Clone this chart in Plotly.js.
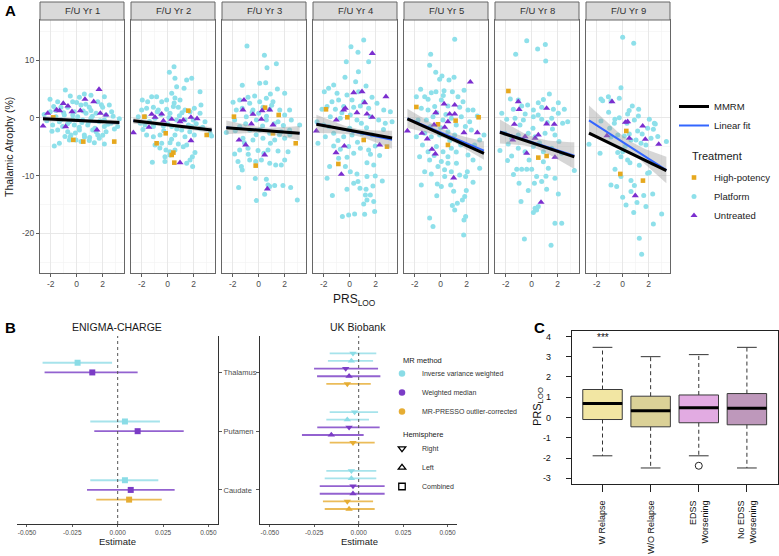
<!DOCTYPE html>
<html><head><meta charset="utf-8">
<script src="https://cdn.plot.ly/plotly-3.0.1.min.js"></script>
<style>html,body{margin:0;padding:0;background:#fff}#chart{width:779px;height:556px}</style>
</head><body><div id="chart"></div>
<script>
// ---------------- Panel A data ----------------
const yearLabels = ['F/U Yr 1','F/U Yr 2','F/U Yr 3','F/U Yr 4','F/U Yr 5','F/U Yr 8','F/U Yr 9'];

const platformYr1 = [[-0.87,4.86],[0.59,4.16],[-2.05,3.24],[-0.49,3.82],[0.21,3.58],[1.10,3.93],[2.13,3.70],[2.51,2.25],[-1.46,2.83],[-0.31,2.83],[1.62,2.83],[2.69,1.10],[3.28,-0.12],[-1.77,1.97],[-2.03,1.10],[-1.21,1.85],[-0.69,1.85],[0.33,2.25],[0.97,1.85],[2.00,1.85],[-0.18,1.10],[0.72,0.81],[1.49,0.81],[2.26,0.52],[-1.59,0.23],[-0.95,0.52],[0.08,0.23],[1.10,-0.06],[2.13,-0.35],[-1.33,-0.64],[-0.56,-0.64],[0.46,-0.35],[1.74,-0.64],[2.64,-0.92],[-1.85,-1.21],[-1.08,-1.50],[-0.18,-1.21],[0.85,-1.21],[2.13,-1.50],[-1.46,-2.08],[-0.69,-2.37],[0.21,-2.08],[1.23,-2.08],[2.26,-2.37],[-0.44,-2.95],[0.59,-2.95],[1.62,-2.95],[-0.05,-3.82],[0.97,-3.93],[-0.56,-3.82],[0.33,-4.10],[1.74,-3.53],[-1.72,-4.86],[-1.33,-4.39],[2.13,-4.51],[1.36,-4.28],[3.15,-1.50],[-1.0,0.9],[-0.3,0.5],[0.5,1.2],[1.2,0.3],[1.8,-0.5],[-0.7,-1.0],[0.2,-1.6],[0.9,-0.8],[1.5,-2.4],[-1.2,-0.3],[0.6,-3.3],[-0.1,-2.6],[1.1,1.3],[2.4,-1.1],[-1.6,1.3],[-2.3,-0.5],[2.8,0.3],[0.0,2.7],[-0.5,-3.3],[1.9,2.3],[0.4,-0.8],[-0.3,-0.2],[1.4,-1.8],[2.0,-3.0],[-1.9,-2.3],[-2.5,0.6],[-0.9,-3.2],[1.0,-3.4],[2.9,-1.9],[0.7,2.4]];
const untreatedYr1 = [[-2.59,-1.39],[-2.23,0.81],[-1.54,1.39],[-1.31,1.27],[-1.03,2.54],[-0.67,2.08],[-0.36,1.10],[0.64,3.24],[1.72,4.97],[1.31,2.83],[1.56,-2.08],[-0.85,-1.50],[0.28,1.27],[1.82,0.81],[2.26,0.52]];
const highPotencyYr1 = [[2.89,-4.10],[-0.26,-3.80],[0.51,-4.10],[-1.80,0.10]];

const platformYr2 = [[0.49,8.90],[0.13,7.92],[0.56,6.88],[1.46,6.59],[1.85,6.88],[1.26,5.14],[2.49,4.57],[0.69,5.43],[0.31,4.28],[-1.95,3.12],[-1.23,3.70],[-0.85,3.70],[-0.46,2.83],[-0.08,3.12],[0.56,3.47],[0.95,3.12],[-1.54,2.83],[2.56,2.25],[2.05,1.68],[-2.0,1.39],[-1.62,1.68],[-1.10,1.85],[-0.72,1.39],[-0.08,1.50],[0.44,1.97],[0.82,1.85],[1.33,1.39],[1.72,1.10],[2.49,0.81],[-2.26,0.23],[-1.74,0.23],[0.18,0.81],[-0.97,-0.06],[0.69,-0.35],[1.33,-0.35],[1.97,-0.35],[2.87,-0.64],[3.26,-2.66],[3.38,-3.12],[-1.74,-1.21],[-1.10,-1.50],[-0.33,-1.39],[0.31,-1.50],[1.08,-2.08],[1.85,-1.50],[2.49,-1.79],[-1.62,-2.95],[-1.10,-3.24],[-0.59,-2.95],[0.56,-2.95],[1.33,-3.24],[2.05,-2.95],[-0.97,-4.68],[-0.46,-4.39],[0.18,-4.28],[0.82,-4.51],[1.46,-4.68],[-0.13,-5.55],[0.56,-5.55],[-0.21,-6.71],[0.18,-5.84],[2.10,-6.01],[1.90,-6.71],[1.72,-7.28],[1.46,-7.86],[1.92,-8.44],[-1.18,-7.69],[-0.21,-7.57],[0.18,-6.42],[-0.5,0.6],[0.9,0.4],[-1.4,-0.6],[0.0,-1.0],[1.6,-1.2],[-0.3,-2.2],[0.7,-1.9],[2.2,-1.0],[-0.8,1.1],[1.1,0.9],[-2.1,-0.9],[0.3,-3.7],[1.2,-5.0],[-0.6,-5.2],[2.7,-1.6],[-1.9,-2.0],[0.5,2.6],[1.7,-2.4],[-1.1,-1.1],[0.1,0.1]];
const untreatedYr2 = [[-2.64,-2.54],[-1.23,0.64],[-0.97,0.12],[-0.46,0.69],[-0.33,-0.52],[0.31,-0.23],[-1.44,-1.62],[0.95,-0.64],[1.79,0.12],[2.26,-0.12],[1.79,-3.93],[0.95,-7.75],[1.20,-0.35]];
const highPotencyYr2 = [[1.59,1.27],[-1.79,0.23],[-0.15,-2.66],[-0.85,-4.39],[0.44,-6.01],[0.31,-6.42],[0.51,-7.75],[3.00,-2.95]];

const platformYr3 = [[-0.90,12.49],[0.44,10.87],[1.36,9.42],[0.64,8.73],[0.08,6.01],[0.54,6.13],[-1.26,5.66],[1.44,5.03],[2.0,4.28],[-0.31,3.82],[-0.82,3.58],[0.90,4.16],[-1.97,2.72],[-1.46,3.12],[-0.69,2.54],[0.08,2.83],[0.59,3.41],[1.10,2.83],[-1.72,1.39],[-1.26,1.68],[-0.44,1.39],[0.33,1.85],[0.85,1.50],[1.62,1.39],[2.38,1.39],[2.0,0.52],[2.51,-0.35],[3.15,-1.21],[-2.49,-2.54],[-1.85,-0.35],[-0.95,0.23],[-0.18,-0.35],[0.59,-0.35],[1.49,-0.64],[-1.46,-1.50],[-0.69,-2.08],[0.08,-2.08],[0.85,-2.66],[1.74,-2.37],[2.38,-2.08],[-1.21,-3.53],[-0.44,-3.82],[0.33,-3.53],[1.23,-3.82],[2.0,-3.53],[-1.85,-6.24],[-1.46,-5.55],[-0.82,-5.26],[-0.05,-5.66],[0.72,-5.55],[1.49,-5.72],[2.26,-5.84],[-1.59,-7.57],[-1.33,-8.44],[-1.26,-9.02],[-0.69,-7.28],[-0.23,-7.57],[0.21,-7.28],[0.85,-7.86],[1.31,-8.15],[1.74,-8.15],[2.0,-7.28],[-1.54,-12.08],[-0.26,-10.52],[0.59,-10.64],[0.72,-11.62],[0.46,-13.24],[1.23,-11.73],[1.87,-11.73],[2.46,-12.08],[-0.18,-14.34],[2.97,-14.22],[0.85,-11.9],[-0.5,1.0],[0.6,0.3],[1.2,-1.0],[-1.0,-1.0],[0.3,-1.4],[1.9,-1.3],[-0.2,-2.9],[0.9,-4.4],[-1.1,-4.3],[1.6,-2.9],[2.4,-2.9],[-1.8,-2.2],[0.0,0.8],[1.0,2.2],[-0.8,-6.3],[0.4,-6.1]];
const untreatedYr3 = [[-1.13,3.12],[-1.21,1.39],[-0.44,0.64],[0.21,-0.23],[0.85,1.39],[0.26,1.27],[-0.56,-1.04],[1.10,-1.21],[-1.51,-3.82],[-1.00,-4.68],[0.46,-6.42],[0.67,-12.31]];
const highPotencyYr3 = [[-1.90,0.23],[0.49,1.79],[1.54,0.52],[1.10,-2.66],[2.85,-4.39],[-0.23,-8.27]];

const platformYr4 = [[1.08,13.53],[0.10,12.37],[0.64,11.39],[-0.26,9.77],[1.46,9.77],[0.67,8.03],[-0.36,7.05],[0.46,6.30],[-1.23,5.72],[-1.95,4.57],[-1.62,5.14],[1.26,5.55],[1.72,3.58],[-0.97,4.28],[-0.21,3.99],[0.69,4.57],[-1.36,2.83],[-0.85,3.12],[0.18,3.12],[1.08,2.83],[2.10,2.54],[-2.13,1.50],[-1.74,1.97],[-1.10,1.50],[-0.46,1.97],[0.31,1.85],[0.82,2.08],[1.46,1.68],[2.62,1.39],[3.13,1.10],[3.26,-0.64],[2.74,-0.92],[-2.51,-0.64],[-1.49,0.23],[-0.72,-0.06],[0.05,0.52],[0.56,-0.35],[1.59,0.23],[2.23,-0.35],[-2.44,-4.39],[-1.87,-3.24],[-1.23,-2.66],[-0.46,-3.24],[0.18,-2.95],[0.95,-2.66],[1.72,-2.95],[-1.23,-4.86],[-0.72,-5.43],[-0.08,-4.97],[0.31,-6.13],[0.82,-5.26],[1.46,-5.55],[1.97,-4.86],[-1.54,-8.44],[-1.74,-10.46],[-0.85,-6.99],[-0.33,-8.44],[0.05,-9.31],[0.56,-9.71],[1.33,-7.75],[1.85,-8.15],[1.97,-10.06],[2.51,-10.92],[1.33,-10.17],[0.31,-11.33],[0.64,-11.04],[0.79,-12.20],[1.26,-12.37],[1.79,-11.79],[-0.21,-12.37],[-1.33,-13.47],[1.21,-13.35],[1.59,-13.35],[1.08,-14.91],[1.85,-14.51],[1.33,-14.22],[-0.08,-16.82],[-0.56,-17.11],[0.38,-16.65],[1.15,-16.71],[1.92,-16.24],[-0.6,0.9],[0.9,-0.9],[-1.6,-1.5],[0.0,-1.8],[1.3,-1.7],[2.6,-2.0],[-0.9,-3.9],[0.6,-4.2],[1.6,-6.3],[-0.2,-6.8],[2.3,-6.5],[-2.0,-1.2]];
const untreatedYr4 = [[1.74,11.21],[2.79,3.70],[0.31,4.39],[0.95,4.57],[1.15,2.66],[-0.46,1.39],[-0.33,1.68],[-1.03,-0.35],[1.74,0.12],[-2.56,-2.25],[-0.41,-4.86],[-1.05,-6.01],[2.31,-4.68],[-0.64,-9.77],[0.56,0.92],[1.33,0.69]];
const highPotencyYr4 = [[-1.82,1.50],[-0.18,0.12],[-0.87,-7.98],[2.87,-4.97],[1.08,-3.82]];

const platformYr5 = [[1.08,13.64],[-0.77,11.04],[-0.85,9.13],[-0.38,7.92],[0.10,7.28],[-0.08,6.71],[1.03,7.05],[0.64,6.59],[-1.54,4.97],[-0.72,4.39],[-0.36,4.57],[0.26,4.74],[0.90,4.57],[-1.23,3.70],[-1.87,3.70],[-0.97,3.24],[0.05,3.12],[1.33,3.70],[1.72,2.83],[2.49,1.39],[2.82,0.35],[3.33,-2.95],[3.0,-3.82],[-1.49,1.68],[-0.97,1.39],[-0.46,1.97],[0.56,2.08],[1.46,1.85],[2.10,1.39],[-1.74,-0.35],[-1.10,-0.35],[-0.59,0.23],[0.18,-0.35],[0.82,-0.06],[1.59,0.23],[2.23,-0.64],[-1.87,-3.24],[-1.23,-2.66],[-0.72,-3.24],[-0.08,-2.95],[0.56,-2.37],[1.08,-2.95],[2.36,-2.08],[-1.62,-6.71],[-0.97,-5.84],[-0.33,-4.97],[0.18,-5.84],[0.82,-5.26],[1.54,-4.68],[2.10,-6.42],[2.49,-7.28],[-0.85,-7.28],[0.05,-7.57],[0.56,-6.71],[1.21,-7.86],[-1.23,-9.31],[-0.72,-9.71],[-0.21,-8.44],[0.31,-10.17],[0.82,-9.31],[1.46,-9.88],[1.92,-10.17],[-1.49,-11.62],[-0.26,-11.45],[0.77,-11.62],[2.49,-11.16],[3.0,-8.73],[2.05,-9.31],[0.90,-15.20],[1.08,-15.95],[1.28,-14.80],[1.67,-14.22],[1.85,-13.64],[1.97,-12.60],[1.79,-17.69],[1.92,-17.11],[-0.85,-17.34],[-0.59,-18.84],[1.77,-20.29],[0.56,-7.86],[0.05,-11.9],[-0.3,0.9],[0.4,0.6],[1.2,-1.2],[-0.8,-1.5],[0.0,-1.7],[1.9,-1.5],[-1.4,-4.7],[0.7,-3.9],[1.2,-5.9],[2.6,-4.7],[-0.5,-6.5],[0.3,-9.0],[1.0,-12.7],[-0.3,-13.5],[0.2,3.9],[1.8,4.8]];
const untreatedYr5 = [[2.28,6.24],[-0.38,0.92],[0.26,2.43],[0.69,0.69],[1.08,0.69],[1.08,2.25],[-0.51,-1.21],[0.31,-1.62],[0.56,-0.64],[1.79,-2.54],[2.82,-2.54],[-2.56,-2.25],[-1.44,-2.66],[-1.03,-3.64],[-0.67,-5.43],[-0.41,-6.24],[1.00,-10.40]];
const highPotencyYr5 = [[-1.87,1.91],[-0.21,-1.10],[1.15,-0.46],[2.92,0.12],[0.56,-4.68]];

const platformYr8 = [[-0.38,13.41],[1.05,12.77],[-1.23,11.04],[0.46,11.97],[1.08,9.88],[1.36,4.16],[-1.64,3.29],[-1.03,3.12],[-0.31,2.25],[0.51,2.66],[2.05,2.66],[2.51,1.50],[-1.41,1.50],[-0.77,2.08],[0.13,1.39],[0.77,1.85],[1.67,1.50],[2.05,0.81],[-1.92,-0.23],[-1.28,-0.06],[-0.64,-0.35],[0.13,0.23],[0.77,-0.23],[1.54,-0.06],[2.38,-0.92],[2.77,-0.64],[-2.44,-5.66],[-2.05,-2.66],[-1.54,-3.53],[-1.03,-2.95],[-0.26,-2.66],[0.26,-3.24],[1.03,-2.66],[1.79,-2.95],[-1.54,-6.59],[-1.03,-5.26],[-0.51,-5.84],[0.13,-4.97],[0.90,-5.84],[1.54,-5.26],[2.31,-6.13],[-1.85,-7.40],[-1.15,-8.90],[-0.77,-8.90],[-0.38,-8.90],[0.0,-8.90],[0.38,-10.17],[0.77,-11.04],[0.21,-11.33],[1.15,-12.37],[1.28,-8.73],[1.79,-10.46],[2.05,-13.18],[-0.26,-12.60],[-0.97,-11.33],[-0.82,-14.51],[0.13,-16.42],[0.38,-15.95],[0.51,-15.38],[0.26,-15.66],[1.79,-18.27],[2.31,-18.27],[-0.56,-20.98],[1.49,-22.08],[3.28,-9.13],[0.90,-7.60],[-0.5,0.7],[0.5,0.5],[1.2,-0.8],[-0.9,-1.2],[0.1,-1.8],[1.6,-1.9],[-1.8,-4.5],[0.6,-4.3],[2.1,-4.1],[-0.2,-7.3],[1.1,-10.1],[-1.4,-9.8],[0.9,3.2],[-2.3,0.8]];
const untreatedYr8 = [[-1.03,2.83],[-0.97,1.50],[1.15,1.68],[-1.33,-1.10],[1.15,-1.04],[1.74,-1.10],[-0.51,-3.24],[-1.46,-3.82],[0.26,-3.53],[-0.38,-6.13],[1.79,-6.82],[0.72,-14.62],[0.51,-2.95]];
const highPotencyYr8 = [[-1.79,4.68],[0.51,-6.88],[1.15,-6.59]];

const platformYr9 = [[0.0,13.99],[0.85,12.95],[-0.13,5.26],[-1.67,3.29],[-1.54,3.01],[-1.10,3.70],[-0.26,3.41],[-0.90,2.95],[0.74,2.08],[1.23,1.50],[-1.08,0.98],[0.38,0.69],[1.21,0.35],[-0.26,0.06],[0.90,-0.35],[2.05,-0.23],[2.44,-0.92],[-1.67,-0.52],[-0.64,-0.92],[1.15,-2.25],[2.36,-1.97],[2.18,-3.53],[-2.59,-4.57],[-1.74,-6.13],[-1.0,-1.79],[-0.38,-2.95],[0.13,-3.12],[0.64,-3.82],[1.41,-4.39],[1.79,-4.68],[3.36,-4.10],[-0.38,-6.01],[-0.13,-6.71],[0.0,-5.84],[0.38,-7.28],[0.56,-7.75],[1.28,-8.21],[-0.59,-8.90],[-0.13,-10.17],[0.64,-10.87],[0.90,-11.73],[2.31,-7.86],[1.92,-9.60],[2.05,-9.48],[-0.90,-11.62],[-0.46,-11.91],[0.0,-13.76],[0.64,-12.77],[0.26,-15.09],[1.10,-14.68],[1.62,-13.47],[2.31,-13.18],[1.79,-15.38],[0.85,-16.42],[3.0,-16.65],[2.36,-18.38],[1.28,-20.87],[1.46,-23.64],[2.51,-1.04],[1.92,-1.79],[0.51,-2.77],[0.33,-0.92],[1.03,-3.82],[0.5,1.3],[-0.6,-0.2],[1.5,-2.8],[-0.9,-3.3],[2.7,-3.2],[0.2,-4.9]];
const untreatedYr9 = [[-0.82,2.83],[0.21,-0.75],[0.38,-0.64],[1.54,-1.39],[-1.21,-3.06],[0.51,-3.53],[1.74,-3.70],[2.77,-4.57],[0.97,-13.47]];
const highPotencyYr9 = [[0.28,-2.25],[-0.18,-9.71],[1.56,-10.87]];

// fitted lines per facet (intercept at PRS = 0, slope) and CI band of the linear fit
const mmrmIntercept = [-0.42,-1.19,-2.11,-2.14,-2.76,-4.30,-5.46];
const mmrmSlope     = [-0.118,-0.266,-0.168,-0.414,-1.01,-0.745,-1.093];
const lmIntercept   = [-0.42,-1.19,-2.08,-2.23,-2.49,-4.14,-4.17];
const lmSlope       = [-0.12,-0.266,-0.18,-0.474,-0.95,-0.73,-1.45];
const bandHalfAtMean = [0.3,0.3,0.5,0.6,0.7,0.9,1.0];
const bandHalfGrowth = [0.12,0.14,0.4,0.5,0.5,0.7,0.75];

// ---------------- Panel B data ----------------
const regionNames = ['Caudate','Putamen','Thalamus'];
const methodKeys = ['IVW','WM','PRESSO'];
const methodLabels = ['Inverse variance weighted','Weighted median','MR-PRESSO outlier-corrected'];
const hemiLabels = ['Right','Left','Combined'];

const enigmaRegion = ['Thalamus','Thalamus','Putamen','Putamen','Caudate','Caudate','Caudate'];
const enigmaMethod = ['IVW','WM','IVW','WM','IVW','WM','PRESSO'];
const enigmaEst = [-0.0221,-0.0140,0.0040,0.0110,0.0040,0.0072,0.0063];
const enigmaLo  = [-0.0414,-0.0403,-0.0151,-0.0129,-0.0151,-0.0169,-0.0118];
const enigmaHi  = [-0.0031,0.0110,0.0233,0.0364,0.0224,0.0314,0.0243];

const ukRegion = ['Thalamus','Thalamus','Thalamus','Thalamus','Thalamus','Putamen','Putamen','Putamen','Putamen','Putamen','Caudate','Caudate','Caudate','Caudate','Caudate','Caudate'];
const ukMethod = ['IVW','IVW','WM','WM','PRESSO','IVW','IVW','WM','WM','PRESSO','IVW','IVW','WM','WM','PRESSO','PRESSO'];
const ukHemi   = ['Right','Left','Right','Left','Right','Right','Left','Right','Left','Right','Right','Left','Right','Left','Right','Left'];
const ukEst = [-0.0032,-0.0041,-0.0073,-0.0054,-0.0064,-0.0023,-0.0064,-0.0054,-0.0154,-0.0032,-0.0041,-0.0041,-0.0032,-0.0032,-0.0064,-0.0054];
const ukLo  = [-0.0163,-0.0173,-0.0251,-0.0234,-0.0182,-0.0163,-0.0182,-0.0233,-0.0319,-0.0163,-0.0182,-0.0191,-0.0219,-0.0219,-0.0201,-0.0191];
const ukHi  = [0.0099,0.0081,0.0109,0.0122,0.0068,0.0109,0.0058,0.0118,0.0028,0.0090,0.0099,0.0099,0.0146,0.0146,0.0081,0.0090];

// ---------------- Panel C data ----------------
const cGroups = ['W Relapse','W/O Relapse','EDSS<br>Worsening','No EDSS<br>Worsening'];
const cLowerWhisker = [-1.89,-2.49,-1.89,-2.49];
const cQ1 = [-0.10,-0.46,-0.26,-0.36];
const cMedian = [0.69,0.33,0.48,0.46];
const cQ3 = [1.38,1.05,1.11,1.18];
const cUpperWhisker = [3.46,3.00,3.10,3.46];
const cOutliers = [[],[],[-2.38],[]];
const cSignif = ['***','','',''];

// ---------------- build ----------------
const FONT = 'Liberation Sans, Arial, Helvetica, sans-serif';
const W = 779, H = 556;
const fx = v => v / W, fy = v => 1 - v / H;
const traces = [], shapes = [], annotations = [];
const layout = {
  width: W, height: H, margin: {l:0, r:0, t:0, b:0, pad: 0, autoexpand: false},
  paper_bgcolor: '#fff', plot_bgcolor: '#fff',
  font: {family: FONT, color: '#1A1A1A'},
  hovermode: false, showlegend: true
};
function label(px, py, text, size, opts) {
  annotations.push(Object.assign({xref: 'paper', yref: 'paper', x: fx(px), y: fy(py), text: text, showarrow: false,
    xanchor: 'center', yanchor: 'middle', font: {size: size, color: '#1A1A1A', family: FONT}}, opts || {}));
}

const platformByYear = [platformYr1,platformYr2,platformYr3,platformYr4,platformYr5,platformYr8,platformYr9];
const untreatedByYear = [untreatedYr1,untreatedYr2,untreatedYr3,untreatedYr4,untreatedYr5,untreatedYr8,untreatedYr9];
const highByYear = [highPotencyYr1,highPotencyYr2,highPotencyYr3,highPotencyYr4,highPotencyYr5,highPotencyYr8,highPotencyYr9];

const facetLeft = [40,131,222,313,404,495,586], facetWidth = 84, aTop = 20, aBottom = 273;
const colPlatform = '#8EE0EA', colHigh = '#E6A81E', colUntr = '#7B2ECF';

yearLabels.forEach((lab, i) => {
  const s = i === 0 ? '' : String(i + 1);
  const xa = 'x' + s, ya = 'y' + s;
  const L = facetLeft[i];
  layout['xaxis' + s] = {
    domain: [fx(L), fx(L + facetWidth)], range: [-2.82, 3.64], anchor: ya,
    tickmode: 'array', tickvals: [-2,0,2], ticktext: ['-2','0','2'],
    ticks: 'outside', ticklen: 3, tickcolor: '#333', tickwidth: 0.8,
    tickfont: {size: 8.5, color: '#4D4D4D', family: FONT},
    showline: true, mirror: true, linecolor: '#666', linewidth: 1,
    showgrid: true, gridcolor: '#E6E6E6', gridwidth: 0.9, zeroline: false,
    minor: {tickmode: 'array', tickvals: [-1,1,3], showgrid: true, gridcolor: '#F2F2F2', gridwidth: 0.6, ticks: ''},
    fixedrange: true, automargin: false
  };
  layout['yaxis' + s] = {
    domain: [fy(aBottom), fy(aTop)], range: [-26.9, 17], anchor: xa,
    tickmode: 'array', tickvals: [-20,-10,0,10], ticktext: ['-20','-10','0','10'],
    ticks: i === 0 ? 'outside' : '', ticklen: 3, tickcolor: '#333', tickwidth: 0.8,
    showticklabels: i === 0,
    tickfont: {size: 8.5, color: '#4D4D4D', family: FONT},
    showline: true, mirror: true, linecolor: '#666', linewidth: 1,
    showgrid: true, gridcolor: '#E6E6E6', gridwidth: 0.9, zeroline: false,
    minor: {tickmode: 'array', tickvals: [-25,-15,-5,5,15], showgrid: true, gridcolor: '#F2F2F2', gridwidth: 0.6, ticks: ''},
    fixedrange: true, automargin: false
  };
  const groups = [
    [platformByYear[i], 'Platform', 'circle', colPlatform, 5, 2],
    [highByYear[i], 'High-potency', 'square', colHigh, 4.6, 1],
    [untreatedByYear[i], 'Untreated', 'triangle-up', colUntr, 6.2, 3]
  ];
  groups.forEach(g => {
    traces.push({
      type: 'scatter', mode: 'markers', xaxis: xa, yaxis: ya,
      x: g[0].map(p => p[0]), y: g[0].map(p => p[1]),
      name: g[1], legend: 'legend2', legendrank: g[5], showlegend: i === 0,
      marker: {symbol: g[2], color: g[3], size: g[4], line: {width: 0}},
      hoverinfo: 'skip', cliponaxis: true
    });
  });
  const allX = [].concat(platformByYear[i], highByYear[i], untreatedByYear[i]).map(p => p[0]);
  const xmin = Math.min(...allX), xmax = Math.max(...allX);
  const N = 40, gx = [];
  for (let k = 0; k <= N; k++) gx.push(xmin + (xmax - xmin) * k / N);
  const xm = allX.reduce((a, b) => a + b, 0) / allX.length;
  const lmY = gx.map(x => lmIntercept[i] + lmSlope[i] * x);
  const half = gx.map(x => Math.sqrt(bandHalfAtMean[i] ** 2 + (bandHalfGrowth[i] * (x - xm)) ** 2));
  traces.push({
    type: 'scatter', mode: 'lines', xaxis: xa, yaxis: ya,
    x: gx.concat(gx.slice().reverse()),
    y: lmY.map((v, k) => v + half[k]).concat(lmY.map((v, k) => v - half[k]).reverse()),
    fill: 'toself', fillcolor: 'rgba(153,153,153,0.4)', line: {width: 0},
    showlegend: false, hoverinfo: 'skip'
  });
  traces.push({
    type: 'scatter', mode: 'lines', xaxis: xa, yaxis: ya, x: gx, y: lmY,
    name: 'Linear fit', legend: 'legend', legendrank: 2, showlegend: i === 0,
    line: {color: '#3366FF', width: 2}, hoverinfo: 'skip'
  });
  traces.push({
    type: 'scatter', mode: 'lines', xaxis: xa, yaxis: ya,
    x: gx, y: gx.map(x => mmrmIntercept[i] + mmrmSlope[i] * x),
    name: 'MMRM', legend: 'legend', legendrank: 1, showlegend: i === 0,
    line: {color: '#000000', width: 3}, hoverinfo: 'skip'
  });
  shapes.push({type: 'rect', xref: 'paper', yref: 'paper', x0: fx(L), x1: fx(L + facetWidth), y0: fy(aTop), y1: fy(2),
    fillcolor: '#D9D9D9', line: {color: '#666', width: 1}, layer: 'above'});
  label(L + facetWidth / 2, 11, lab, 9.5, {font: {size: 9.5, color: '#333333', family: FONT}});
});

label(9, 147, 'Thalamic Atrophy (%)', 10.5, {textangle: -90});
label(354, 300, 'PRS<sub>LOO</sub>', 12);
label(690, 156, 'Treatment', 11, {xanchor: 'left'});

layout.legend = {x: fx(674), y: fy(92), xanchor: 'left', yanchor: 'top', bgcolor: 'rgba(0,0,0,0)', borderwidth: 0,
  font: {size: 9.5, color: '#1A1A1A', family: FONT}, traceorder: 'normal', itemclick: false};
layout.legend2 = {x: fx(674), y: fy(163), xanchor: 'left', yanchor: 'top', bgcolor: 'rgba(0,0,0,0)', borderwidth: 0,
  font: {size: 9.5, color: '#1A1A1A', family: FONT}, traceorder: 'normal', itemclick: false};

// ---------------- Panel B ----------------
const methodColors = {IVW: '#8ADCE6', WM: '#7B3CC6', PRESSO: '#E6AD33'};
const methodBarColors = {IVW: 'rgba(150,222,232,0.85)', WM: 'rgba(128,70,200,0.85)', PRESSO: 'rgba(232,176,60,0.85)'};
const hemiSymbol = {Right: 'triangle-down', Left: 'triangle-up', Combined: 'square'};
const regionPos = r => regionNames.indexOf(r) + 1;
const bTop = 336, bBottom = 524;

function bAxes(s, L, R, side) {
  layout['xaxis' + s] = {
    domain: [fx(L), fx(R)], range: [-0.0555, 0.0553], anchor: 'y' + s,
    tickmode: 'array', tickvals: [-0.05,-0.025,0,0.025,0.05], ticktext: ['-0.050','-0.025','0.000','0.025','0.050'],
    ticks: 'outside', ticklen: 2, tickcolor: '#333', tickwidth: 0.8,
    tickfont: {size: 6.5, color: '#4D4D4D', family: FONT},
    showline: true, linecolor: '#333', linewidth: 1, showgrid: false, zeroline: false, fixedrange: true, automargin: false
  };
  layout['yaxis' + s] = {
    domain: [fy(bBottom), fy(bTop)], range: [0.42, 3.62], anchor: 'x' + s, side: side,
    tickmode: 'array', tickvals: [1,2,3], ticktext: regionNames,
    showticklabels: side === 'right',
    ticks: 'outside', ticklen: 3, tickcolor: '#333', tickwidth: 0.8,
    tickfont: {size: 7.5, color: '#4D4D4D', family: FONT},
    showline: true, linecolor: '#333', linewidth: 1, showgrid: false, zeroline: false, fixedrange: true, automargin: false
  };
  shapes.push({type: 'line', xref: 'x' + s, yref: 'y' + s + ' domain', x0: 0, x1: 0, y0: 0, y1: 1,
    line: {color: '#555', width: 1, dash: 'dot'}});
}
bAxes('8', 17, 218, 'right');
bAxes('9', 260, 457, 'left');

methodKeys.forEach((m, mi) => {
  const idxE = enigmaMethod.map((v, k) => v === m ? k : -1).filter(k => k >= 0);
  if (idxE.length) traces.push({
    type: 'scatter', mode: 'markers', xaxis: 'x8', yaxis: 'y8', showlegend: false, hoverinfo: 'skip',
    x: idxE.map(k => enigmaEst[k]),
    y: idxE.map(k => regionPos(enigmaRegion[k]) + (1 - mi) * 0.165),
    marker: {symbol: 'square', color: methodColors[m], size: 6, line: {width: 0}},
    error_x: {type: 'data', symmetric: false, array: idxE.map(k => enigmaHi[k] - enigmaEst[k]),
      arrayminus: idxE.map(k => enigmaEst[k] - enigmaLo[k]), color: methodBarColors[m], thickness: 1.8, width: 0}
  });
  const idxU = ukMethod.map((v, k) => v === m ? k : -1).filter(k => k >= 0);
  traces.push({
    type: 'scatter', mode: 'markers', xaxis: 'x9', yaxis: 'y9', showlegend: false, hoverinfo: 'skip',
    x: idxU.map(k => ukEst[k]),
    y: idxU.map(k => regionPos(ukRegion[k]) + (2.5 - (mi * 2 + (ukHemi[k] === 'Right' ? 0 : 1))) * 0.13),
    marker: {symbol: idxU.map(k => hemiSymbol[ukHemi[k]]), color: methodColors[m], size: 6.5, line: {width: 0}},
    error_x: {type: 'data', symmetric: false, array: idxU.map(k => ukHi[k] - ukEst[k]),
      arrayminus: idxU.map(k => ukEst[k] - ukLo[k]), color: methodBarColors[m], thickness: 1.8, width: 0}
  });
  traces.push({type: 'scatter', mode: 'markers', xaxis: 'x9', yaxis: 'y9', x: [null], y: [null],
    name: methodLabels[mi], legend: 'legend3', showlegend: true, hoverinfo: 'skip',
    marker: {symbol: 'circle', color: methodColors[m], size: 6.5}});
});
hemiLabels.forEach(h => {
  traces.push({type: 'scatter', mode: 'markers', xaxis: 'x9', yaxis: 'y9', x: [null], y: [null],
    name: h, legend: 'legend4', showlegend: true, hoverinfo: 'skip',
    marker: {symbol: hemiSymbol[h] + '-open', color: '#000', size: 6.5, line: {width: 1.3, color: '#000'}}});
});
layout.legend3 = {x: fx(382), y: fy(359), xanchor: 'left', yanchor: 'top', bgcolor: 'rgba(0,0,0,0)', borderwidth: 0,
  font: {size: 7, color: '#333', family: FONT}, traceorder: 'normal', itemclick: false};
layout.legend4 = {x: fx(382), y: fy(434), xanchor: 'left', yanchor: 'top', bgcolor: 'rgba(0,0,0,0)', borderwidth: 0,
  font: {size: 7, color: '#333', family: FONT}, traceorder: 'normal', itemclick: false};
label(401, 360, 'MR method', 7.5, {xanchor: 'left'});
label(401, 434, 'Hemisphere', 7.5, {xanchor: 'left'});
label(117, 327, 'ENIGMA-CHARGE', 10.5);
label(358, 327, 'UK Biobank', 10.5);
label(117, 541, 'Estimate', 9.5);
label(359, 541, 'Estimate', 9.5);

// ---------------- Panel C ----------------
const cFill = ['#F2E6A3','#DBD197','#E2ABE2','#BE98BB'];
const boxWidth = 0.82;
layout.xaxis10 = {
  domain: [fx(571.7), fx(777.7)], range: [0.36, 4.64], anchor: 'y10',
  tickmode: 'array', tickvals: cGroups.map((g, i) => i + 1), ticktext: cGroups, tickangle: -90,
  ticks: 'outside', ticklen: 7, tickcolor: '#222', tickwidth: 1, ticklabelstandoff: 5,
  tickfont: {size: 9, color: '#111', family: FONT},
  showline: true, mirror: true, linecolor: '#222', linewidth: 1, showgrid: false, zeroline: false, fixedrange: true, automargin: false
};
layout.yaxis10 = {
  domain: [fy(484), fy(330.7)], range: [-3.28, 4.28], anchor: 'x10',
  tickmode: 'array', tickvals: [-3,-2,-1,0,1,2,3,4], ticktext: ['-3','-2','-1','0','1','2','3','4'],
  ticks: 'outside', ticklen: 5, tickcolor: '#222', tickwidth: 1, ticklabelstandoff: 13,
  tickfont: {size: 9, color: '#111', family: FONT},
  showline: true, mirror: true, linecolor: '#222', linewidth: 1, showgrid: false, zeroline: false, fixedrange: true, automargin: false
};
cGroups.forEach((g, i) => {
  const xc = i + 1;
  traces.push({type: 'scatter', mode: 'lines', xaxis: 'x10', yaxis: 'y10', showlegend: false, hoverinfo: 'skip',
    x: [xc, xc, null, xc, xc], y: [cQ3[i], cUpperWhisker[i], null, cQ1[i], cLowerWhisker[i]],
    line: {color: '#333', width: 1, dash: '4px,3px'}});
  traces.push({type: 'scatter', mode: 'lines', xaxis: 'x10', yaxis: 'y10', showlegend: false, hoverinfo: 'skip',
    x: [xc - boxWidth / 4, xc + boxWidth / 4, null, xc - boxWidth / 4, xc + boxWidth / 4],
    y: [cUpperWhisker[i], cUpperWhisker[i], null, cLowerWhisker[i], cLowerWhisker[i]],
    line: {color: '#333', width: 1}});
  traces.push({type: 'box', xaxis: 'x10', yaxis: 'y10', showlegend: false, hoverinfo: 'skip',
    x: [xc], q1: [cQ1[i]], median: [cMedian[i]], q3: [cQ3[i]], lowerfence: [cQ1[i]], upperfence: [cQ3[i]],
    width: boxWidth, fillcolor: cFill[i], line: {color: '#3A3A3A', width: 1}, boxpoints: false, whiskerwidth: 0});
  traces.push({type: 'scatter', mode: 'lines', xaxis: 'x10', yaxis: 'y10', showlegend: false, hoverinfo: 'skip',
    x: [xc - boxWidth / 2, xc + boxWidth / 2], y: [cMedian[i], cMedian[i]], line: {color: '#000', width: 3}});
  if (cOutliers[i].length) traces.push({type: 'scatter', mode: 'markers', xaxis: 'x10', yaxis: 'y10', showlegend: false,
    hoverinfo: 'skip', x: cOutliers[i].map(() => xc), y: cOutliers[i],
    marker: {symbol: 'circle-open', size: 7, color: '#222', line: {width: 1}}});
  if (cSignif[i]) annotations.push({xref: 'x10', yref: 'y10', x: xc, y: 3.93, text: cSignif[i], showarrow: false,
    xanchor: 'center', yanchor: 'middle', font: {size: 10, color: '#111', family: FONT}});
});
label(538, 407, 'PRS<sub>LOO</sub>', 11, {textangle: -90, font: {size: 11, color: '#111', family: FONT}});

label(3, 10, '<b>A</b>', 15, {xanchor: 'left', font: {size: 15, color: '#000', family: FONT}});
label(3, 327, '<b>B</b>', 15, {xanchor: 'left', font: {size: 15, color: '#000', family: FONT}});
label(532, 327, '<b>C</b>', 15, {xanchor: 'left', font: {size: 15, color: '#000', family: FONT}});

layout.shapes = shapes;
layout.annotations = annotations;
Plotly.newPlot('chart', traces, layout, {displayModeBar: false, staticPlot: true});
</script></body></html>
